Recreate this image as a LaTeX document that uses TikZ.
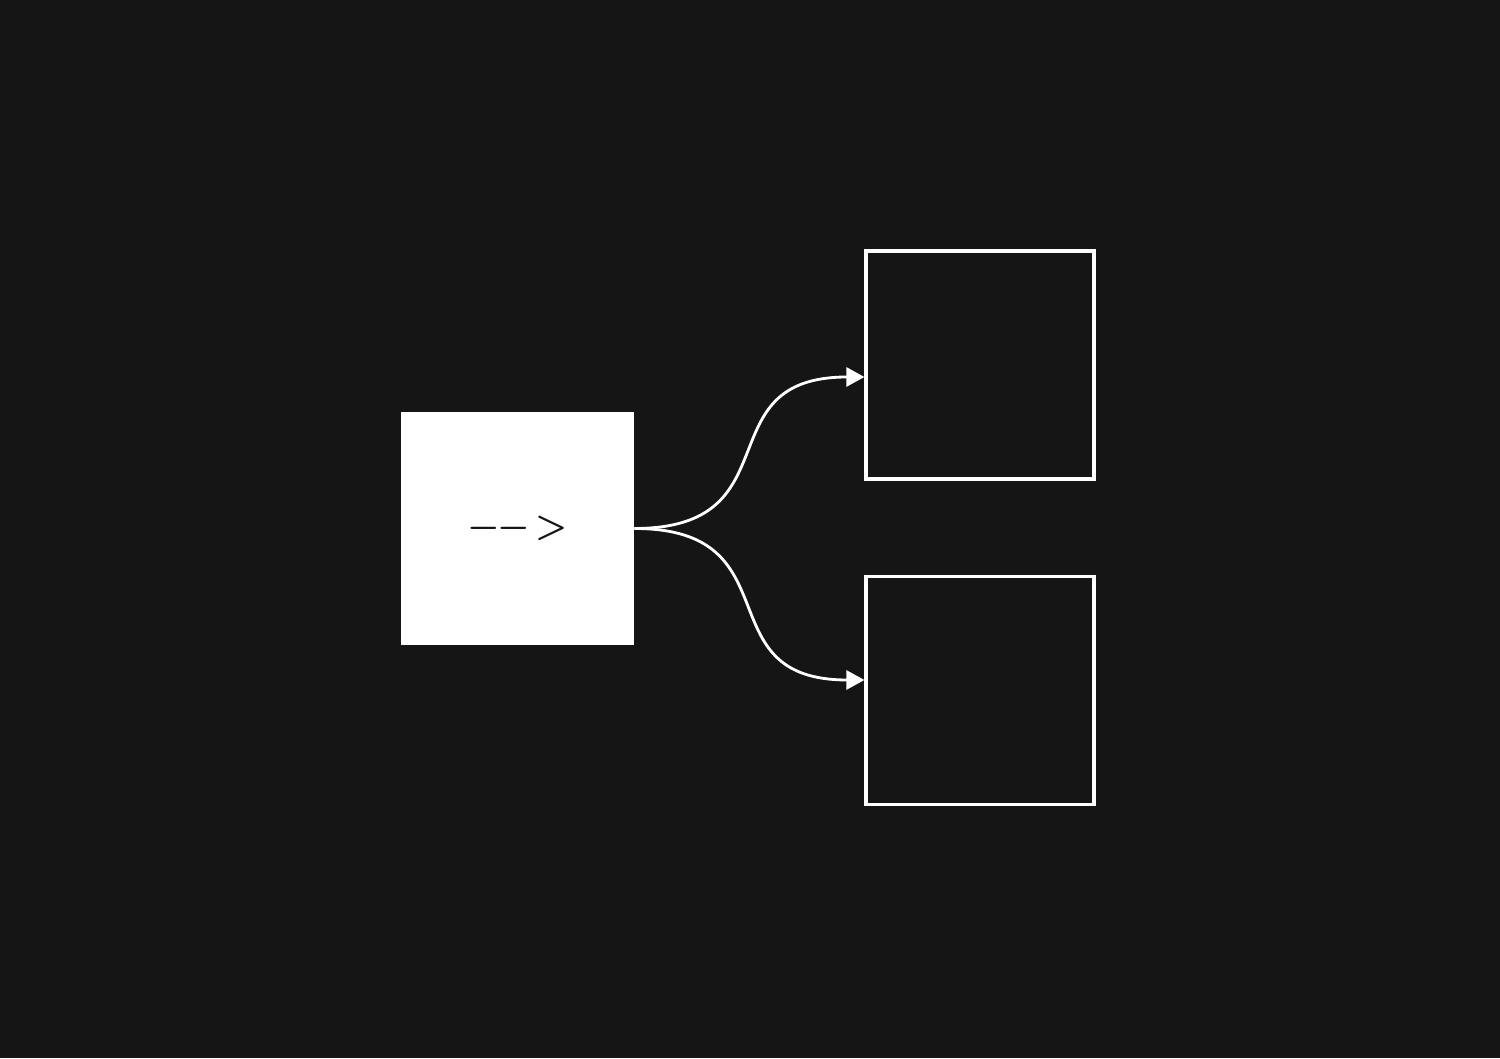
\documentclass[tikz,border=0pt]{standalone}
\usepackage{amsmath}
\usepackage{amssymb}
\usetikzlibrary{arrows.meta}
\usetikzlibrary{positioning}
\definecolor{bg}{RGB}{21,21,21}
\newcommand{\dasharrowtext}{{\fontsize{20}{24}\selectfont\mathversion{bold}$-\mkern-1mu-\mkern-3mu>$}}
\tikzset{fullbox/.style = {fill = white, draw = none, text = bg, minimum size = 4.66cm, inner sep = 0}}
\tikzset{openbox/.style = {draw = white, line width = 1.8pt, minimum size = 4.56cm, inner sep = 0}}
\tikzset{link/.style = {draw = white, line width = 1.6pt, looseness = 1.5, -{Triangle[length = 3.6mm, width = 3.8mm]}}}

\begin{document}
\begin{tikzpicture}
    \fill [bg] (0, 0) rectangle (30, 21.16);
    \useasboundingbox (0, 0) rectangle (30, 21.16);
    \node [fullbox] (src) at (10.35, 10.59) {\dasharrowtext};
    \node [openbox] (top) at (19.6, 13.86) {};
    \node [openbox] (bot) at (19.6, 7.35) {};
    \draw [link] (src.east) to [out = 0, in = 180] ([yshift = -0.24cm] top.west);
    \draw [link] (src.east) to [out = 0, in = 180] ([yshift = 0.21cm] bot.west);
  \end{tikzpicture}
\end{document}
